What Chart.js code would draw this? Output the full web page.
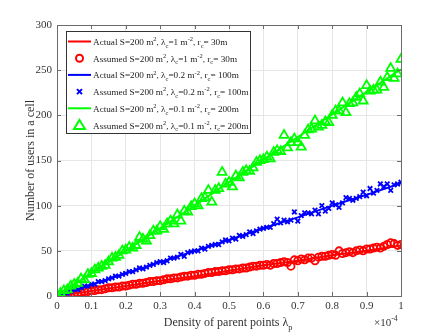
<!DOCTYPE html>
<html>
<head>
<meta charset="utf-8">
<script src="https://cdn.jsdelivr.net/npm/chart.js@4.4.1/dist/chart.umd.min.js"></script>
<style>
    html, body { margin: 0; padding: 0; background: #fff; }
</style>
</head>
<body>
<canvas id="myChart" width="443" height="332"></canvas>
<script>
// x positions (density of parent points, x 10^-4)
const densities = [
    0, 0.01, 0.02, 0.03, 0.04, 0.05, 0.06, 0.07, 0.08, 0.09,
    0.1, 0.11, 0.12, 0.13, 0.14, 0.15, 0.16, 0.17, 0.18, 0.19,
    0.2, 0.21, 0.22, 0.23, 0.24, 0.25, 0.26, 0.27, 0.28, 0.29,
    0.3, 0.31, 0.32, 0.33, 0.34, 0.35, 0.36, 0.37, 0.38, 0.39,
    0.4, 0.41, 0.42, 0.43, 0.44, 0.45, 0.46, 0.47, 0.48, 0.49,
    0.5, 0.51, 0.52, 0.53, 0.54, 0.55, 0.56, 0.57, 0.58, 0.59,
    0.6, 0.61, 0.62, 0.63, 0.64, 0.65, 0.66, 0.67, 0.68, 0.69,
    0.7, 0.71, 0.72, 0.73, 0.74, 0.75, 0.76, 0.77, 0.78, 0.79,
    0.8, 0.81, 0.82, 0.83, 0.84, 0.85, 0.86, 0.87, 0.88, 0.89,
    0.9, 0.91, 0.92, 0.93, 0.94, 0.95, 0.96, 0.97, 0.98, 0.99, 1
];

// "Actual" curves
const actualX = [0, 0.1, 0.2, 0.3, 0.4, 0.5, 0.6, 0.7, 0.8, 0.9, 1];
const actualRed = [0, 5.5, 11, 17, 22, 28, 34, 39, 45, 50, 56];
const actualBlue = [0, 12.5, 25, 37.5, 50, 62, 75, 87, 100, 112, 125];
const actualGreen = [0, 25, 50, 75, 100, 126, 151, 176, 201, 226, 251];

// "Assumed" samples
const assumedRed = [
    0, 0, 1, 1, 2, 3, 3, 4, 5, 5,
    6, 6, 7, 7, 8, 9, 9, 10, 10, 11,
    11, 12, 13, 13, 14, 14, 15, 16, 16, 17,
    17, 18, 19, 19, 20, 20, 21, 22, 22, 23,
    23, 24, 24, 25, 26, 26, 27, 27, 28, 28,
    29, 29, 30, 30, 31, 31, 32, 33, 33, 34,
    34, 35, 34, 36, 36, 37, 38, 37, 33, 40,
    39, 41, 40, 42, 42, 39, 43, 44, 44, 45,
    46, 45, 50, 47, 48, 49, 48, 50, 51, 50,
    52, 52, 53, 54, 53, 55, 57, 59, 58, 56, 57
];
const assumedBlue = [
    0, 1, 3, 3, 5, 7, 7, 9, 11, 11,
    13, 13, 16, 16, 17, 19, 20, 22, 22, 24,
    25, 27, 27, 29, 31, 30, 32, 34, 35, 37,
    38, 37, 39, 42, 42, 43, 46, 44, 48, 49,
    50, 50, 53, 52, 55, 56, 57, 57, 60, 62,
    61, 64, 63, 67, 66, 68, 71, 69, 72, 74,
    75, 76, 76, 80, 85, 81, 84, 82, 84, 93,
    83, 89, 92, 92, 91, 95, 91, 100, 94, 97,
    103, 101, 98, 103, 109, 108, 106, 108, 110, 115,
    111, 119, 114, 117, 124, 121, 124, 117, 123, 124, 126
];
const assumedGreen = [
    0, 3, 6, 7, 11, 13, 14, 19, 18, 24,
    25, 29, 31, 33, 34, 38, 42, 43, 45, 50,
    51, 54, 53, 56, 65, 63, 61, 67, 72, 72,
    77, 74, 80, 83, 80, 90, 83, 94, 93, 99,
    102, 100, 108, 109, 117, 104, 117, 119, 137, 124,
    126, 121, 133, 131, 137, 139, 138, 142, 148, 150,
    151, 154, 152, 159, 161, 160, 178, 164, 170, 174,
    170, 165, 178, 184, 185, 194, 187, 189, 193, 192,
    200, 205, 205, 214, 203, 213, 214, 220, 224, 216,
    233, 227, 228, 228, 237, 231, 242, 252, 241, 246, 262
];

const xTickLabels = ["0", "0.1", "0.2", "0.3", "0.4", "0.5", "0.6", "0.7", "0.8", "0.9", "1"];
const yTickLabels = ["0", "50", "100", "150", "200", "250", "300"];

// legend text, split into [text, "n" | "sup" | "sub"]
const legendTexts = [
    [["Actual S=200 m", "n"], ["2", "sup"], [", \u03bb", "n"], ["c", "sub"], ["=1 m", "n"], ["-2", "sup"], [", r", "n"], ["c", "sub"], ["= 30m", "n"]],
    [["Assumed S=200 m", "n"], ["2", "sup"], [", \u03bb", "n"], ["c", "sub"], ["=1 m", "n"], ["-2", "sup"], [", r", "n"], ["c", "sub"], ["= 30m", "n"]],
    [["Actual S=200 m", "n"], ["2", "sup"], [", \u03bb", "n"], ["c", "sub"], ["=0.2 m", "n"], ["-2", "sup"], [", r", "n"], ["c", "sub"], ["= 100m", "n"]],
    [["Assumed S=200 m", "n"], ["2", "sup"], [", \u03bb", "n"], ["c", "sub"], ["=0.2 m", "n"], ["-2", "sup"], [", r", "n"], ["c", "sub"], ["= 100m", "n"]],
    [["Actual S=200 m", "n"], ["2", "sup"], [", \u03bb", "n"], ["c", "sub"], ["=0.1 m", "n"], ["-2", "sup"], [", r", "n"], ["c", "sub"], ["= 200m", "n"]],
    [["Assumed S=200 m", "n"], ["2", "sup"], [", \u03bb", "n"], ["c", "sub"], ["=0.1 m", "n"], ["-2", "sup"], [", r", "n"], ["c", "sub"], ["= 200m", "n"]]
];

const RED = "#ff0000";
const BLUE = "#0000ff";
const GREEN = "#00ff00";
const SERIF = "'Liberation Serif', 'Times New Roman', serif";

function toPoints(xs, ys) {
    return ys.map((y, i) => ({ x: xs[i], y: y }));
}

function drawRich(ctx, x, y, parts, size) {
    ctx.textBaseline = "alphabetic";
    ctx.textAlign = "left";
    parts.forEach(([text, kind]) => {
        let dy = 0;
        let s = size;
        if (kind === "sup") { s = size * 0.7; dy = -size * 0.42; }
        if (kind === "sub") { s = size * 0.7; dy = size * 0.3; }
        ctx.font = s + "px " + SERIF;
        ctx.fillText(text, x, y + dy);
        x += ctx.measureText(text).width;
    });
    return x;
}

// box, inward ticks, titles and legend
const decorPlugin = {
    id: "decor",
    afterDatasetsDraw(chart) {
        const { ctx, chartArea: a, scales } = chart;
        ctx.save();
        ctx.strokeStyle = "#6b6b6b";
        ctx.lineWidth = 1;
        ctx.strokeRect(a.left + 0.5, a.top + 0.5, a.right - a.left, a.bottom - a.top);
        ctx.beginPath();
        scales.x.ticks.forEach(t => {
            const px = Math.round(scales.x.getPixelForValue(t.value)) + 0.5;
            ctx.moveTo(px, a.bottom); ctx.lineTo(px, a.bottom - 4);
            ctx.moveTo(px, a.top); ctx.lineTo(px, a.top + 4);
        });
        scales.y.ticks.forEach(t => {
            const py = Math.round(scales.y.getPixelForValue(t.value)) + 0.5;
            ctx.moveTo(a.left, py); ctx.lineTo(a.left + 4, py);
            ctx.moveTo(a.right, py); ctx.lineTo(a.right - 4, py);
        });
        ctx.stroke();
        ctx.restore();
    },
    afterDraw(chart) {
        const { ctx, chartArea: a } = chart;
        ctx.save();
        ctx.fillStyle = "#333";

        // x title
        const xParts = [["Density of parent points \u03bb", "n"], ["p", "sub"]];
        ctx.font = "12px " + SERIF;
        const w = ctx.measureText("Density of parent points \u03bb").width + 6;
        drawRich(ctx, (a.left + a.right) / 2 - w / 2, 326, xParts, 12);

        // exponent
        drawRich(ctx, 374, 326, [["\u00d710", "n"], ["-4", "sup"]], 11);

        // y title
        ctx.translate(31, (a.top + a.bottom) / 2);
        ctx.rotate(-Math.PI / 2);
        ctx.font = "12px " + SERIF;
        ctx.textAlign = "center";
        ctx.textBaseline = "middle";
        ctx.fillText("Number of users in a cell", 0, 0);
        ctx.restore();

        // legend
        ctx.save();
        const lx = 66, ly = 31, lw = 184, lh = 102;
        ctx.fillStyle = "#fff";
        ctx.fillRect(lx, ly, lw, lh);
        ctx.strokeStyle = "#333";
        ctx.lineWidth = 1;
        ctx.strokeRect(lx + 0.5, ly + 0.5, lw, lh);
        const colors = [RED, RED, BLUE, BLUE, GREEN, GREEN];
        legendTexts.forEach((parts, i) => {
            const cy = 41.5 + i * 16.7;
            ctx.strokeStyle = colors[i];
            ctx.lineWidth = 2;
            ctx.beginPath();
            if (i % 2 === 0) {
                ctx.moveTo(68, cy); ctx.lineTo(91, cy);
            } else if (i === 1) {
                ctx.arc(79.5, cy, 3.5, 0, Math.PI * 2);
            } else if (i === 3) {
                ctx.moveTo(77, cy - 2.5); ctx.lineTo(82, cy + 2.5);
                ctx.moveTo(82, cy - 2.5); ctx.lineTo(77, cy + 2.5);
            } else {
                ctx.moveTo(79.5, cy - 5); ctx.lineTo(85, cy + 4); ctx.lineTo(74, cy + 4); ctx.closePath();
            }
            ctx.stroke();
            ctx.fillStyle = "#222";
            drawRich(ctx, 93, cy + 3.5, parts, 9.2);
        });
        ctx.restore();
    }
};

const ctx = document.getElementById("myChart").getContext("2d");

const lineStyle = (color, order) => ({
    borderColor: color,
    backgroundColor: color,
    borderWidth: 2,
    pointRadius: 0,
    showLine: true,
    fill: false,
    order: order
});
const markerStyle = (color, style, radius, order) => ({
    borderColor: color,
    backgroundColor: "transparent",
    borderWidth: 1.8,
    pointStyle: style,
    pointRadius: radius,
    showLine: false,
    order: order
});

const myChart = new Chart(ctx, {
    type: "scatter",
    data: {
        datasets: [
            { label: "Actual red", data: toPoints(actualX, actualRed), ...lineStyle(RED, 6) },
            { label: "Assumed red", data: toPoints(densities, assumedRed), ...markerStyle(RED, "circle", 3.6, 5) },
            { label: "Actual blue", data: toPoints(actualX, actualBlue), ...lineStyle(BLUE, 4) },
            { label: "Assumed blue", data: toPoints(densities, assumedBlue), ...markerStyle(BLUE, "crossRot", 3.2, 3) },
            { label: "Actual green", data: toPoints(actualX, actualGreen), ...lineStyle(GREEN, 2) },
            { label: "Assumed green", data: toPoints(densities, assumedGreen), ...markerStyle(GREEN, "triangle", 5.2, 1) }
        ]
    },
    options: {
        responsive: false,
        animation: false,
        layout: { padding: { top: 25, right: 42, left: 0, bottom: 0 } },
        plugins: {
            legend: { display: false },
            tooltip: { enabled: false }
        },
        scales: {
            x: {
                type: "linear",
                min: 0,
                max: 1,
                afterFit: scale => { scale.height = 36; },
                afterBuildTicks: scale => {
                    scale.ticks = xTickLabels.map(l => ({ value: parseFloat(l) }));
                },
                grid: { color: "#e6e6e6", drawTicks: false },
                border: { display: false },
                ticks: {
                    padding: 4,
                    color: "#333",
                    font: { family: SERIF, size: 11 },
                    maxRotation: 0,
                    callback: (v, i) => xTickLabels[i]
                }
            },
            y: {
                min: 0,
                max: 300,
                afterFit: scale => { scale.width = 57; },
                afterBuildTicks: scale => {
                    scale.ticks = yTickLabels.map(l => ({ value: parseFloat(l) }));
                },
                grid: { color: "#e6e6e6", drawTicks: false },
                border: { display: false },
                ticks: {
                    padding: 5,
                    color: "#333",
                    font: { family: SERIF, size: 11 },
                    callback: (v, i) => yTickLabels[i]
                }
            }
        }
    },
    plugins: [decorPlugin]
});
</script>
</body>
</html>
